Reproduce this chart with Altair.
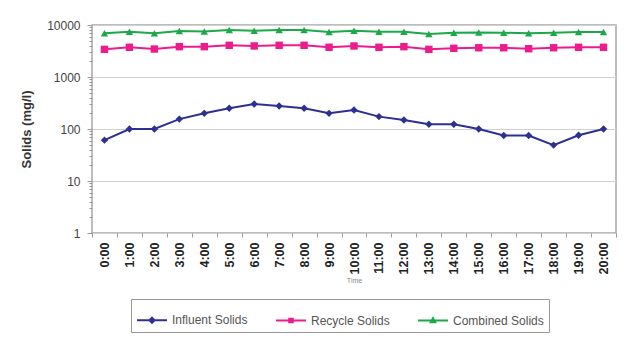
import altair as alt
import pandas as pd

times = [f"{h}:00" for h in range(21)]
influent = [61, 100, 100, 155, 200, 250, 302, 277, 250, 200, 232, 173, 149, 123, 123, 100, 75, 75, 49, 76, 100]
recycle = [3400, 3730, 3450, 3830, 3830, 4070, 3950, 4070, 4070, 3730, 3950, 3730, 3830, 3400, 3560, 3650, 3650, 3500, 3650, 3730, 3730]
combined = [6920, 7440, 6920, 7670, 7500, 8000, 7750, 8000, 8000, 7330, 7750, 7440, 7440, 6700, 7100, 7200, 7100, 6920, 7100, 7330, 7330]

series_names = ["Influent Solids", "Recycle Solids", "Combined Solids"]
series_colors = ["#2D3092", "#EC1C8C", "#1DA84A"]
marker_shapes = ["diamond", "square", "triangle-up"]
legend_paths = [
    "M-1,0H1M0,-0.17L0.17,0L0,0.17L-0.17,0ZM0,-0.06L0.06,0L0,0.06L-0.06,0Z",
    "M-1,0H1M-0.12,-0.12H0.12V0.12H-0.12ZM-0.05,-0.05H0.05V0.05H-0.05Z",
    "M-1,0H1M0,-0.16L0.15,0.12L-0.15,0.12ZM0,-0.04L0.05,0.06L-0.05,0.06Z",
]

rows = []
for name, vals in zip(series_names, [influent, recycle, combined]):
    for t, v in zip(times, vals):
        rows.append({"Time": t, "series": name, "value": v})
df = pd.DataFrame(rows)

y_ticks = [m * 10 ** e for e in range(4) for m in range(1, 10)] + [10000]
decades = "indexof([1,10,100,1000,10000], datum.value) >= 0"

x_enc = alt.X(
    "Time:N", sort=times, title="Time",
    scale=alt.Scale(paddingInner=0, paddingOuter=0),
    axis=alt.Axis(
        labelAngle=270, labelFont="Liberation Sans", labelFontSize=12.5, labelFontWeight="bold",
        labelColor="#222", labelPadding=5, tickBand="extent", tickSize=4, tickColor="#999",
        domain=False, grid=False,
        titleFont="Liberation Sans", titleFontSize=7, titleFontWeight="normal", titleColor="#888",
        titlePadding=3,
    ),
)
y_enc = alt.Y(
    "value:Q", title="Solids (mg/l)",
    scale=alt.Scale(type="log", domain=[1, 10000], nice=False),
    axis=alt.Axis(
        values=y_ticks, labelExpr=f"{decades} ? format(datum.value, 'd') : ''",
        labelFont="Liberation Sans", labelFontSize=12, labelColor="#444", labelPadding=7,
        tickColor="#999",
        tickSize={"condition": {"test": decades, "value": 5}, "value": 3},
        grid=True, gridColor="#D0D0D0", gridWidth=1.2,
        gridOpacity={"condition": {"test": decades, "value": 1}, "value": 0},
        domain=False,
        titleFont="Liberation Sans", titleFontSize=13, titleFontWeight="bold", titleColor="#333",
        titleAngle=270, titleX=-66, titleY=104, titleAlign="center", titleBaseline="middle",
    ),
)

def permuted_scale(order):
    # same name -> colour mapping, listed in a different order (keeps guides separate)
    return alt.Scale(domain=[series_names[i] for i in order],
                     range=[series_colors[i] for i in order])

lines = alt.Chart(df).mark_line(strokeWidth=2).encode(
    x=x_enc, y=y_enc,
    stroke=alt.Stroke("series:N", scale=permuted_scale([2, 1, 0]), legend=None),
)

point_layers = []
for name, shp in zip(series_names, marker_shapes):
    point_layers.append(
        alt.Chart(df).transform_filter(alt.datum.series == name)
        .mark_point(filled=True, size=55, opacity=1, shape=shp)
        .encode(x=x_enc, y=y_enc,
                fill=alt.Fill("series:N", scale=permuted_scale([1, 0, 2]), legend=None))
    )

leg = alt.Legend(
    orient="none", legendX=39, legendY=274, direction="horizontal", columns=3,
    columnPadding=24, symbolSize=900, symbolStrokeWidth=2, labelOffset=4,
    labelFont="Liberation Sans", labelFontSize=12, labelColor="#555",
    strokeColor="#999", padding=5,
)
legend_layer = alt.Chart(df).mark_point(filled=False, strokeWidth=2, opacity=1).encode(
    x=x_enc, y=y_enc,
    color=alt.Color("series:N", scale=permuted_scale([0, 1, 2]), title=None, legend=leg),
    shape=alt.Shape("series:N", scale=alt.Scale(domain=series_names, range=legend_paths),
                    title=None, legend=leg),
).transform_filter("false")

chart = alt.layer(lines, *point_layers, legend_layer).properties(
    width=524, height=208,
    autosize=alt.AutoSizeParams(type="none"),
    padding={"left": 92, "top": 25, "right": 24, "bottom": 106},
    background="white",
).configure_view(stroke="#A8A8A8", strokeWidth=1.5)

chart.save("out.html", embed_options={"renderer": "svg", "actions": False})
